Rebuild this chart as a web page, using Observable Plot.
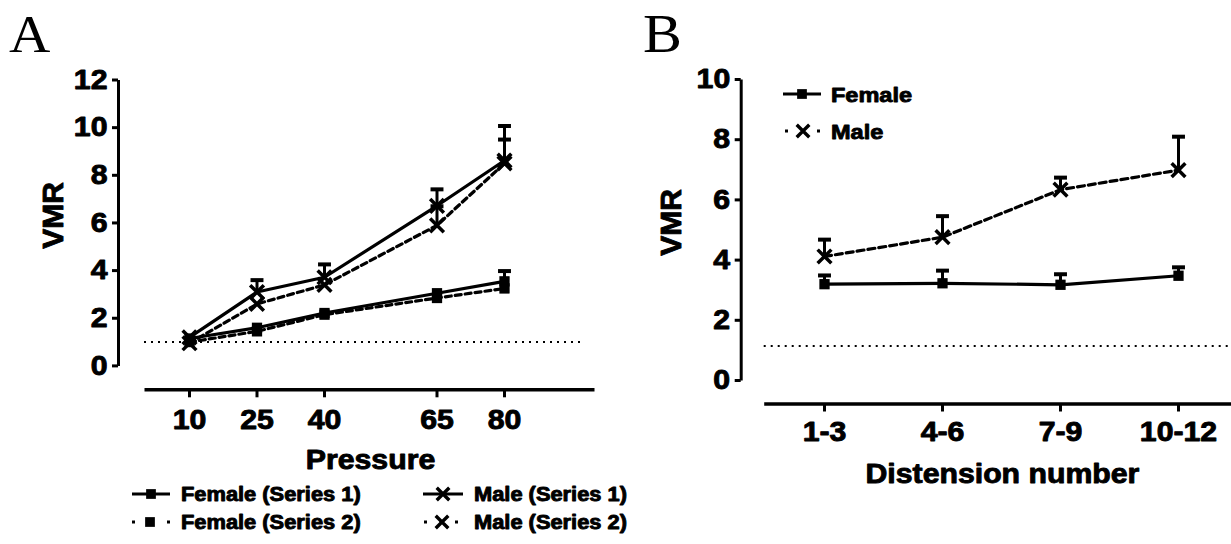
<!DOCTYPE html>
<html><head><meta charset="utf-8">
<script src="https://cdn.jsdelivr.net/npm/d3@7"></script>
<script src="https://cdn.jsdelivr.net/npm/@observablehq/plot@0.6"></script>
<style>
html,body{margin:0;padding:0;background:#fff;overflow:hidden}
#root{position:relative;width:1231px;height:544px;overflow:hidden;background:#fff}
#root > svg{position:absolute;top:0}
</style></head><body><div id="root"></div>
<script>
// ---------- Panel A data ----------
const pressures = [10, 25, 40, 65, 80];
const femaleS1 = [1.15, 1.6, 2.22, 3.05, 3.55];
const femaleS2 = [1.0, 1.45, 2.15, 2.85, 3.25];
const maleS1 = [1.2, 3.1, 3.72, 6.72, 8.62];
const maleS2 = [0.95, 2.6, 3.4, 5.9, 8.5];
const femaleS1Err = [null, null, null, null, 3.98];
const femaleS2Err = [null, null, null, null, null];
const maleS1Err = [null, 3.6, 4.26, 7.41, 10.07];
const maleS2Err = [null, null, null, 6.7, 9.5];
const baselineA = 1;
const yTicksA = [0, 2, 4, 6, 8, 10, 12];
const legendA = ["Female (Series 1)", "Male (Series 1)", "Female (Series 2)", "Male (Series 2)"];

// ---------- Panel B data ----------
const distensions = ["1-3", "4-6", "7-9", "10-12"];
const femaleB = [3.2, 3.23, 3.18, 3.48];
const femaleBErr = [3.49, 3.65, 3.53, 3.76];
const maleB = [4.12, 4.76, 6.34, 6.99];
const maleBErr = [4.68, 5.46, 6.74, 8.1];
const baselineB = 1.15;
const yTicksB = [0, 2, 4, 6, 8, 10];
const legendB = ["Female", "Male"];

const FONT = "'Liberation Sans', Arial, sans-serif";
const rows = (xs, ys, errs) => xs.map((x, i) => ({x, y: ys[i], err: errs[i]}));
const capSymbol = {draw(ctx, size) { const w = Math.sqrt(size) / 2; ctx.moveTo(-w, 0); ctx.lineTo(w, 0); }};
const SQUARE = {symbol: "square", r: 5.8, fill: "black", stroke: "none", sw: 0};
const TIMES = {symbol: "times", r: 6.3, fill: "none", stroke: "black", sw: 3.5};

function seriesMarks(data, o) {
  const withErr = data.filter(d => d.err != null);
  return [
    Plot.ruleX(withErr, {x: "x", y1: "y", y2: "err", stroke: "black", strokeWidth: 3}),
    Plot.dot(withErr, {x: "x", y: "err", symbol: capSymbol, r: 7.3, fill: "none", stroke: "black", strokeWidth: 4}),
    Plot.line(data, {x: "x", y: "y", stroke: "black", strokeWidth: 3.2, strokeDasharray: o.dash}),
    Plot.dot(data, {x: "x", y: "y", symbol: o.symbol, r: o.r, fill: o.fill, stroke: o.stroke, strokeWidth: o.sw})
  ];
}

const style = {fontFamily: FONT, fontWeight: "bold", fontSize: "27px", color: "black", background: "transparent", overflow: "visible"};

// ---------- Panel A ----------
const plotA = Plot.plot({
  width: 610, height: 480,
  marginLeft: 118, marginTop: 79.5, marginRight: 16, marginBottom: 90.7,
  x: {type: "linear", domain: [0, 100], insetLeft: 26, label: null},
  y: {domain: [0, 12], insetBottom: 23.9, label: null},
  style,
  marks: [
    Plot.frame({anchor: "left", insetBottom: 23.9, strokeWidth: 3, strokeLinecap: "butt"}),
    Plot.frame({anchor: "bottom", insetLeft: 26, strokeWidth: 3.5, strokeLinecap: "butt"}),
    Plot.axisY({ticks: yTicksA, tickSize: 6, tickPadding: 5, strokeWidth: 3, tickFormat: d => String(d), label: null}),
    Plot.axisX({ticks: pressures, tickSize: 8, tickPadding: 12, strokeWidth: 3, tickFormat: d => String(d), label: null}),
    Plot.ruleY([baselineA], {x1: 0, x2: 98, stroke: "black", strokeWidth: 2, strokeDasharray: "2,5"}),
    ...seriesMarks(rows(pressures, femaleS2, femaleS2Err), {...SQUARE, dash: "6,4"}),
    ...seriesMarks(rows(pressures, maleS2, maleS2Err), {...TIMES, dash: "6,4"}),
    ...seriesMarks(rows(pressures, femaleS1, femaleS1Err), SQUARE),
    ...seriesMarks(rows(pressures, maleS1, maleS1Err), TIMES),
    Plot.text(["Pressure"], {text: d => d, frameAnchor: "bottom", lineAnchor: "top", dx: 14, dy: 60, fontSize: 27}),
    Plot.text(["VMR"], {text: d => d, frameAnchor: "left", rotate: -90, textAnchor: "middle", lineAnchor: "middle", dx: -65, dy: -19.4, fontSize: 30})
  ]
});
plotA.style.left = "0px";

// ---------- Panel B ----------
const plotB = Plot.plot({
  width: 640, height: 490,
  marginLeft: 130.7, marginTop: 79, marginRight: 12, marginBottom: 86.5,
  x: {type: "point", domain: distensions, padding: 0.5, insetLeft: 23, label: null},
  y: {domain: [0, 10], insetBottom: 23.5, label: null},
  style,
  marks: [
    Plot.frame({anchor: "left", insetBottom: 23.5, strokeWidth: 3, strokeLinecap: "butt"}),
    Plot.frame({anchor: "bottom", insetLeft: 23, strokeWidth: 3.5, strokeLinecap: "butt"}),
    Plot.axisY({ticks: yTicksB, tickSize: 6, tickPadding: 5, strokeWidth: 3, tickFormat: d => String(d), label: null}),
    Plot.axisX({tickSize: 8, tickPadding: 10, strokeWidth: 3, label: null}),
    Plot.ruleY([baselineB], {insetLeft: 23, stroke: "black", strokeWidth: 2, strokeDasharray: "2,5"}),
    ...seriesMarks(rows(distensions, maleB, maleBErr), {...TIMES, dash: "7,4"}),
    ...seriesMarks(rows(distensions, femaleB, femaleBErr), SQUARE),
    Plot.text(["Distension number"], {text: d => d, frameAnchor: "bottom", lineAnchor: "top", dx: 12.6, dy: 59.7, fontSize: 27}),
    Plot.text(["VMR"], {text: d => d, frameAnchor: "left", rotate: -90, textAnchor: "middle", lineAnchor: "middle", dx: -69.7, dy: -19.25, fontSize: 30})
  ]
});
plotB.style.left = "610px";

const root = document.getElementById("root");
root.appendChild(plotA);
root.appendChild(plotB);

// ---------- Overlay: panel letters and legends ----------
const ov = d3.select(root).append("svg").attr("width", 1231).attr("height", 544).style("left", "0px")
  .attr("font-family", FONT).attr("font-weight", "bold");

ov.append("text").attr("x", 9).attr("y", 52).attr("font-family", "'Liberation Serif', 'Times New Roman', serif")
  .attr("font-weight", "normal").attr("font-size", 53).attr("class", "serif").text("A");
ov.append("text").attr("x", 643).attr("y", 52).attr("font-family", "'Liberation Serif', 'Times New Roman', serif")
  .attr("font-weight", "normal").attr("font-size", 54).attr("class", "serif").text("B");

function legendItem(g, x1, x2, mx, y, dash, sym, label, tx, fs) {
  g.append("line").attr("x1", x1).attr("x2", x2).attr("y1", y).attr("y2", y)
    .attr("stroke", "black").attr("stroke-width", 3)
    .attr("stroke-dasharray", dash);
  if (sym === "square") {
    g.append("path").attr("d", d3.symbol(d3.symbolSquare, 95)()).attr("transform", `translate(${mx},${y})`).attr("fill", "black");
  } else {
    g.append("path").attr("d", d3.symbol(d3.symbolTimes, 105)()).attr("transform", `translate(${mx},${y})`)
      .attr("fill", "none").attr("stroke", "black").attr("stroke-width", 3.4);
  }
  g.append("text").attr("x", tx).attr("y", y + fs * 0.36).attr("font-size", fs).text(label);
}
legendItem(ov, 132, 170, 151, 494, null, "square", legendA[0], 181, 19.5);
legendItem(ov, 423, 463, 443, 494, null, "times", legendA[1], 474, 19.5);
legendItem(ov, 132, 170, 150, 522, "3,14.5", "square", legendA[2], 181, 19.5);
legendItem(ov, 424, 458, 442, 522, "3,12.5", "times", legendA[3], 474, 19.5);
legendItem(ov, 783, 821, 802, 94, null, "square", legendB[0], 831, 21);
legendItem(ov, 785, 820, 803, 131, "3,13", "times", legendB[1], 831, 21);

// ---------- widen / embolden sans-serif text to match the reference typeface ----------
root.querySelectorAll("text").forEach(t => {
  const serif = t.classList.contains("serif");
  if (!serif) {
    t.setAttribute("stroke", "black");
    t.setAttribute("stroke-width", "0.9");
    t.setAttribute("stroke-linejoin", "round");
  }
  const tr = t.getAttribute("transform") || "";
  if (tr.includes("rotate")) return;
  const k = serif ? 1.08 : 1.12;
  const len = t.getComputedTextLength();
  if (len > 0) { t.setAttribute("textLength", len * k); t.setAttribute("lengthAdjust", "spacingAndGlyphs"); }
});
</script></body></html>
